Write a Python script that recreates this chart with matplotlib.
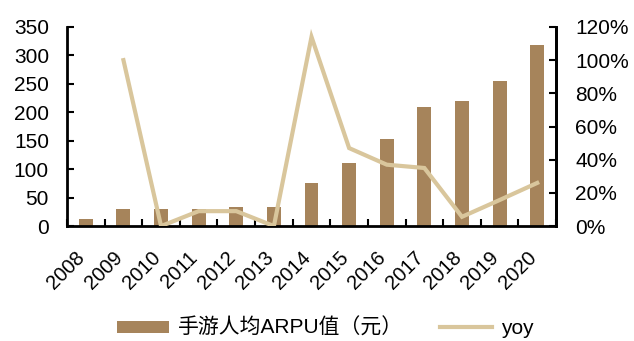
import matplotlib
matplotlib.use("Agg")
import matplotlib.pyplot as plt
import matplotlib.transforms as mtransforms
from matplotlib.ticker import FuncFormatter, MultipleLocator, FixedLocator
import numpy as np

plt.rcParams['font.family'] = ['Liberation Sans', 'Noto Sans CJK SC', 'DejaVu Sans']

years = ['2008', '2009', '2010', '2011', '2012', '2013', '2014',
         '2015', '2016', '2017', '2018', '2019', '2020']
arpu = [12, 30, 30, 30, 33, 33, 76, 111, 153, 209, 220, 255, 318]
yoy = [np.nan, 1.00, 0.00, 0.09, 0.09, 0.00, 1.14, 0.47, 0.37, 0.35, 0.056, 0.157, 0.26]

bar_color = '#A6845B'
line_color = '#D9C69C'

fig = plt.figure(figsize=(6.34, 3.41), dpi=100)
ax = fig.add_axes([0.1057, 0.337, 0.7713, 0.584])
ax2 = ax.twinx()

x = np.arange(len(years))
ax.bar(x, arpu, width=0.37, color=bar_color, label='手游人均ARPU值（元）', zorder=2)
ax2.plot(x, yoy, color=line_color, lw=3, label='yoy', zorder=3,
         solid_joinstyle='miter')

ax.set_xlim(-0.5, len(years) - 0.5)
ax.set_ylim(0, 350)
ax.yaxis.set_major_locator(MultipleLocator(50))
ax2.set_ylim(0, 1.2)
ax2.yaxis.set_major_locator(MultipleLocator(0.2))
ax2.yaxis.set_major_formatter(FuncFormatter(lambda v, p: f'{v*100:.0f}%'))

# category ticks sit between bars, labels centred under bars
ax.xaxis.set_major_locator(FixedLocator(np.arange(-0.5, len(years), 1.0)))
ax.xaxis.set_major_formatter(FuncFormatter(lambda v, p: ''))
ax.xaxis.set_minor_locator(FixedLocator(x))
ax.set_xticklabels(years, minor=True)
ax.tick_params(axis='x', which='minor', length=0, pad=16, labelsize=14.5)
ax.tick_params(axis='x', which='major', direction='in', length=5, width=1.5)
shift = mtransforms.ScaledTranslation(3 / 100, 0, fig.dpi_scale_trans)
for lbl in ax.get_xticklabels(minor=True):
    lbl.set_rotation(45)
    lbl.set_ha('right')
    lbl.set_va('top')
    lbl.set_transform(lbl.get_transform() + shift)

ax.tick_params(axis='y', direction='in', length=5, width=1.5, labelsize=15, pad=13)
ax2.tick_params(axis='y', direction='in', length=5, width=1.5, labelsize=15, pad=14)

for a in (ax, ax2):
    a.spines['top'].set_visible(False)
    for s in ('left', 'right', 'bottom'):
        a.spines[s].set_linewidth(2)
ax2.spines['left'].set_visible(False)
ax2.spines['bottom'].set_visible(False)

h1, l1 = ax.get_legend_handles_labels()
h2, l2 = ax2.get_legend_handles_labels()
fig.legend(h1 + h2, l1 + l2, loc='center', bbox_to_anchor=(0.513, 0.038),
           ncol=2, frameon=False, fontsize=15, handlelength=2.5,
           handleheight=0.5, columnspacing=1.8, handletextpad=0.4,
           borderpad=0.0)

fig.savefig('out.png', dpi=100)
